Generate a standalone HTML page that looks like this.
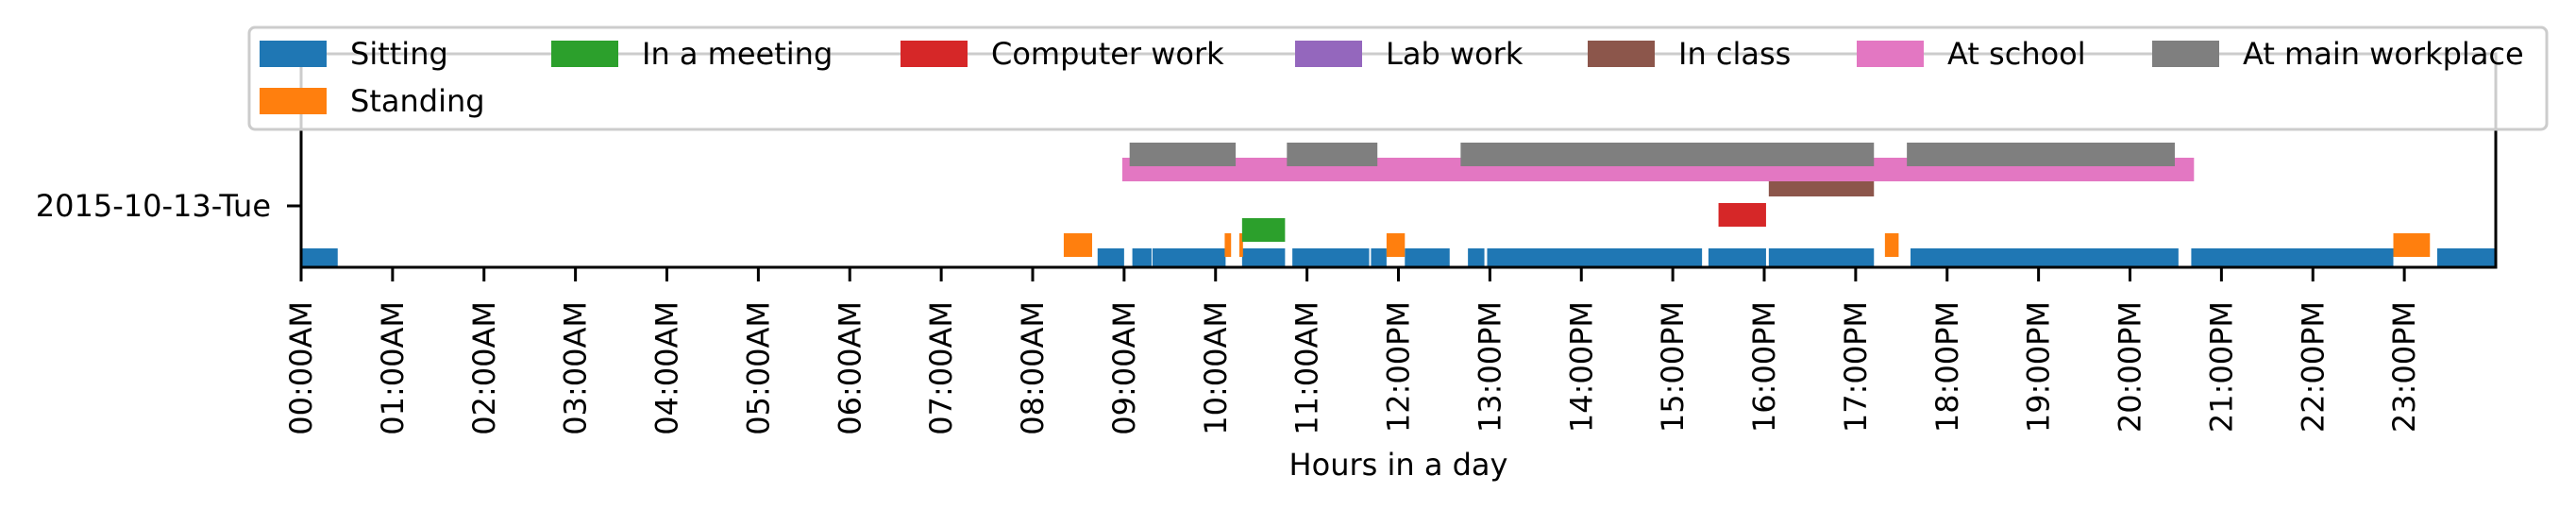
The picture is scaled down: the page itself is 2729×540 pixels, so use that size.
<!DOCTYPE html>
<html><head><meta charset="utf-8"><style>
html,body{margin:0;padding:0;background:#fff;}
svg{display:block;font-family:"DejaVu Sans","Liberation Sans",sans-serif;}
</style></head><body>
<svg id="chart" width="2729" height="540" viewBox="0 0 2729 540">
<defs><clipPath id="plotclip"><rect x="319" y="57" width="2325" height="226"/></clipPath></defs>
<g id="bars" clip-path="url(#plotclip)"></g>
<g id="axes"></g>
<g id="legend"></g>
</svg>
<script>
const seriesNames = ["Sitting","Standing","In a meeting","Computer work","Lab work","In class","At school","At main workplace"];
const seriesColors = ["#1f77b4","#ff7f0e","#2ca02c","#d62728","#9467bd","#8c564b","#e377c2","#7f7f7f"];
const sitting = [[0,0.4],[8.71,9.0],[9.09,9.30],[9.31,10.11],[10.29,10.76],[10.84,11.68],[11.70,11.87],[12.07,12.56],[12.76,12.94],[12.97,15.32],[15.39,16.02],[16.05,17.20],[17.60,20.53],[20.67,22.88],[23.36,24]];
const standing = [[8.34,8.65],[10.10,10.17],[10.26,10.30],[11.87,12.07],[17.32,17.47],[22.88,23.28]];
const meeting = [[10.29,10.76]];
const computerWork = [[15.50,16.02]];
const labWork = [];
const inClass = [[16.05,17.20]];
const atSchool = [[8.98,20.70]];
const atWorkplace = [[9.06,10.22],[10.78,11.77],[12.68,17.20],[17.56,20.49]];
const seriesData = [sitting,standing,meeting,computerWork,labWork,inClass,atSchool,atWorkplace];
const tickHours = [0,1,2,3,4,5,6,7,8,9,10,11,12,13,14,15,16,17,18,19,20,21,22,23];
const tickLabels = ["00:00AM","01:00AM","02:00AM","03:00AM","04:00AM","05:00AM","06:00AM","07:00AM","08:00AM","09:00AM","10:00AM","11:00AM","12:00PM","13:00PM","14:00PM","15:00PM","16:00PM","17:00PM","18:00PM","19:00PM","20:00PM","21:00PM","22:00PM","23:00PM"];
const dayLabel = "2015-10-13-Tue";

const NS="http://www.w3.org/2000/svg";
const X0=319, X1=2644, Y0=57, Y1=283;
function xs(h){return X0+(X1-X0)*h/24;}
function rowTop(i){return 263-16*i;}
const ROWH=25;
function mk(tag,attrs,parent){const e=document.createElementNS(NS,tag);for(const k in attrs)e.setAttribute(k,attrs[k]);parent.appendChild(e);return e;}

const bars=document.getElementById('bars');
seriesData.forEach((arr,i)=>{
  arr.forEach((seg,j)=>{
    const r=mk('rect',{x:xs(seg[0]),y:rowTop(i),width:xs(seg[1])-xs(seg[0]),height:ROWH,fill:seriesColors[i]},bars);
    
    
  });
});

const axes=document.getElementById('axes');
let sp=mk('rect',{x:X0,y:Y0,width:X1-X0,height:Y1-Y0,fill:'none',stroke:'#000','stroke-width':3},axes);


tickHours.forEach((h,i)=>{
  const x=xs(h);
  const t=mk('line',{x1:x,y1:Y1,x2:x,y2:Y1+15,stroke:'#000','stroke-width':3},axes);
  
  
  const tx=mk('text',{x:0,y:0,'font-size':32,'text-anchor':'end','dominant-baseline':'central',transform:`translate(${x},${Y1+36}) rotate(-90)`},axes);
  tx.textContent=tickLabels[i];
  
  
});
let yt=mk('line',{x1:X0-15,y1:218,x2:X0,y2:218,stroke:'#000','stroke-width':3},axes);


let yl=mk('text',{x:X0-32,y:218,'font-size':32,'text-anchor':'end','dominant-baseline':'central'},axes);
yl.textContent=dayLabel;


let xt=mk('text',{x:(X0+X1)/2,y:503,'font-size':32,'text-anchor':'middle'},axes);
xt.textContent="Hours in a day";



const lg=document.getElementById('legend');
let box=mk('rect',{x:264,y:29,width:2434,height:108,rx:6,fill:'#fff','fill-opacity':0.8,stroke:'#cccccc','stroke-width':3},lg);


const colX=[275,584,954,1372,1682,1967,2280];
seriesNames.forEach((n,i)=>{
  const col=i<2?0:i-1, row=i===1?1:0;
  const cy=row?107:57;
  const g=mk('g',{},lg);
  
  
  mk('rect',{x:colX[col],y:cy-14,width:71,height:28,fill:seriesColors[i]},g);
  const t=mk('text',{x:colX[col]+96,y:cy,'font-size':32,'dominant-baseline':'central'},g);
  t.textContent=n;
});
</script>
</body></html>
